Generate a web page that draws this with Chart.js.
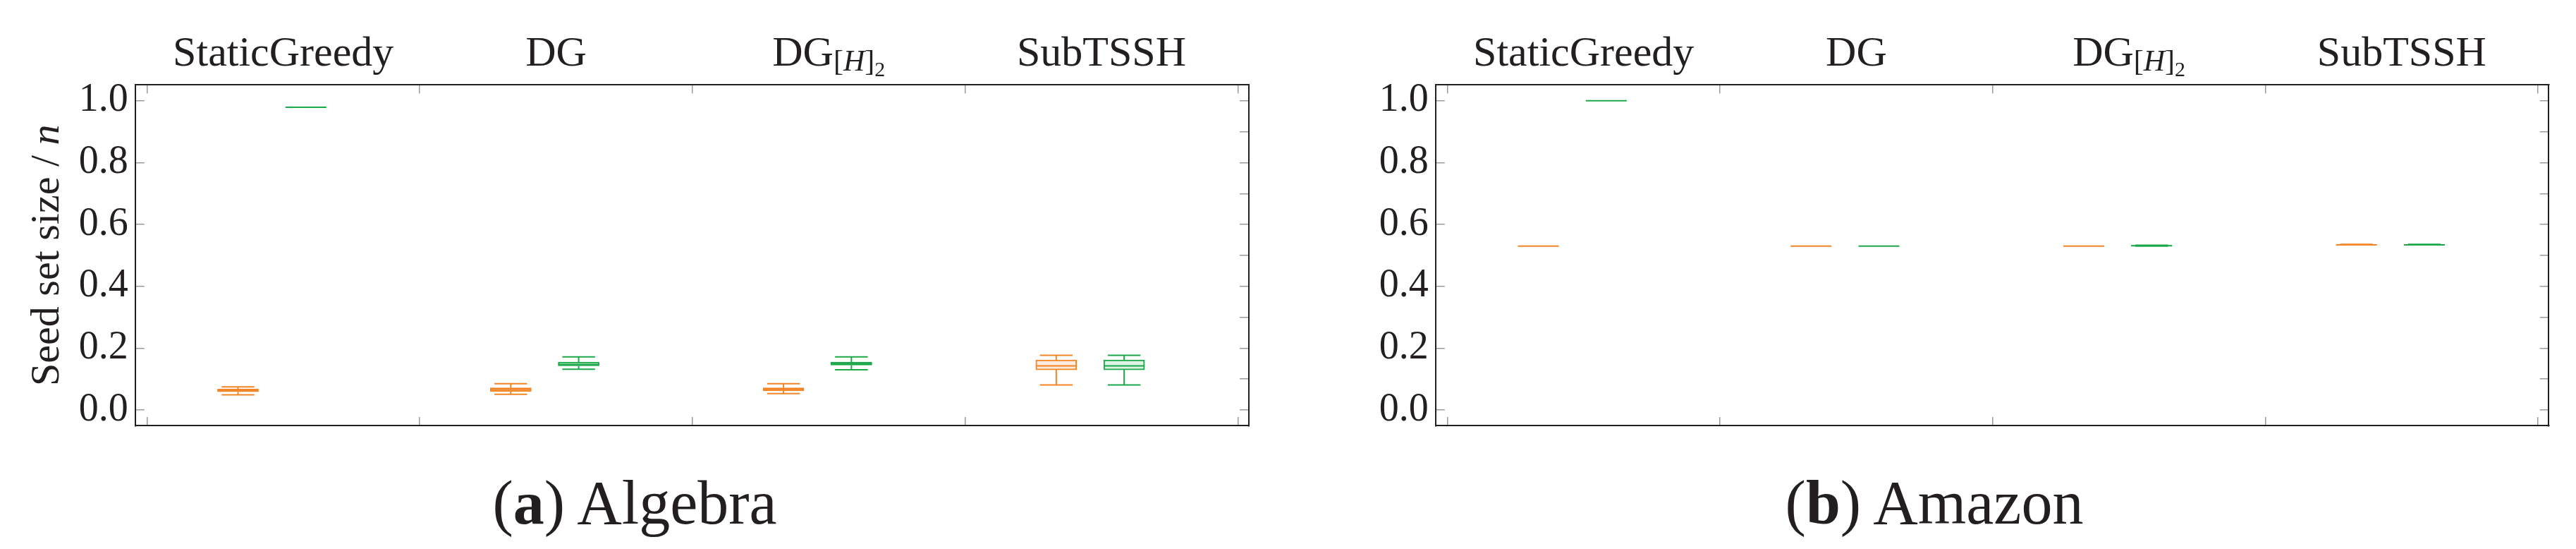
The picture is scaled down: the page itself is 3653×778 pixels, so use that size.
<!DOCTYPE html>
<html>
<head>
<meta charset="utf-8">
<script src="https://cdn.jsdelivr.net/npm/chart.js@4.4.0/dist/chart.umd.min.js"></script>
<style>
    html, body { margin: 0; padding: 0; background: #fff; width: 3653px; height: 778px; overflow: hidden; }
    .panel { position: absolute; top: 0; height: 660px; }
    .caption {
        position: absolute; top: 669px;
        font-family: 'Liberation Serif', 'DejaVu Serif', serif;
        font-size: 88px; line-height: 1; white-space: nowrap;
        transform: translateX(-50%); color: #231f20;
    }
</style>
</head>
<body>
<div class="panel" style="left:0;width:1800px"><canvas id="algebraChart"></canvas></div>
<div class="panel" style="left:1800px;width:1853px"><canvas id="amazonChart"></canvas></div>
<div class="caption" style="left:900px">(<b>a</b>) Algebra</div>
<div class="caption" style="left:2743px">(<b>b</b>) Amazon</div>

<script>
const methods = ['StaticGreedy', 'DG', 'DG[H]2', 'SubTSSH'];

// Algebra - orange series (min, q1, median, q3, max per method)
const algOrangeMin = [0.049, 0.051, 0.053, 0.081];
const algOrangeQ1  = [0.059, 0.060, 0.062, 0.130];
const algOrangeMed = [0.062, 0.067, 0.067, 0.143];
const algOrangeQ3  = [0.068, 0.072, 0.072, 0.162];
const algOrangeMax = [0.075, 0.085, 0.085, 0.177];

// Algebra - green series
const algGreenMin = [0.979, 0.132, 0.130, 0.081];
const algGreenQ1  = [0.979, 0.143, 0.145, 0.130];
const algGreenMed = [0.979, 0.147, 0.150, 0.143];
const algGreenQ3  = [0.979, 0.155, 0.155, 0.162];
const algGreenMax = [0.979, 0.172, 0.172, 0.177];

// Amazon - orange series
const amzOrangeMin = [0.530, 0.530, 0.530, 0.534];
const amzOrangeQ1  = [0.530, 0.530, 0.530, 0.534];
const amzOrangeMed = [0.530, 0.530, 0.530, 0.534];
const amzOrangeQ3  = [0.530, 0.530, 0.530, 0.5345];
const amzOrangeMax = [0.530, 0.530, 0.530, 0.5355];

// Amazon - green series
const amzGreenMin = [1.000, 0.530, 0.530, 0.534];
const amzGreenQ1  = [1.000, 0.530, 0.530, 0.534];
const amzGreenMed = [1.000, 0.530, 0.531, 0.534];
const amzGreenQ3  = [1.000, 0.530, 0.532, 0.5345];
const amzGreenMax = [1.000, 0.530, 0.533, 0.5355];

const SERIF = "'Liberation Serif', 'DejaVu Serif', serif";
const INK = '#231f20';
const ORANGE = '#f28526', ORANGE_FILL = '#fdebdd';
const GREEN = '#1ca84a', GREEN_FILL = '#ddf3e3';

// where each series sits inside its method slot (slot = 1 unit)
const ORANGE_POS = 0.334, GREEN_POS = 0.583;
const CAP_HALF = 0.06, BOX_HALF = 0.075;

const Y_MIN = -0.051, Y_MAX = 1.052;
const X_MIN = -0.0414, X_MAX = 4.039;

// Box = floating bar, whiskers/caps/median = one broken line dataset
function boxDatasets(s, color, fill, pos) {
    const xs = methods.map((m, i) => i + pos);
    const boxes = {
        type: 'bar',
        data: xs.map((x, i) => ({ x: x, y: [s.q1[i], s.q3[i]] })),
        backgroundColor: fill,
        borderColor: color,
        borderWidth: 2,
        borderSkipped: false,
        barThickness: 58,
        grouped: false,
        order: 2
    };
    const pts = [];
    xs.forEach((x, i) => {
        pts.push({ x: x, y: s.q3[i] }, { x: x, y: s.max[i] }, { x: x, y: null });
        pts.push({ x: x - CAP_HALF, y: s.max[i] }, { x: x + CAP_HALF, y: s.max[i] }, { x: x, y: null });
        pts.push({ x: x, y: s.q1[i] }, { x: x, y: s.min[i] }, { x: x, y: null });
        pts.push({ x: x - CAP_HALF, y: s.min[i] }, { x: x + CAP_HALF, y: s.min[i] }, { x: x, y: null });
        pts.push({ x: x - BOX_HALF, y: s.med[i] }, { x: x + BOX_HALF, y: s.med[i] }, { x: x, y: null });
    });
    const lines = {
        type: 'line',
        data: pts,
        borderColor: color,
        borderWidth: 2,
        pointRadius: 0,
        fill: false,
        spanGaps: false,
        tension: 0,
        order: 1
    };
    return [boxes, lines];
}

function titleParts(name) {
    if (name === 'DG[H]2') {
        return [
            { text: 'DG', font: '60px ' + SERIF, dy: 0 },
            { text: '[', font: '42px ' + SERIF, dy: 6.7 },
            { text: 'H', font: 'italic 42px ' + SERIF, dy: 6.7 },
            { text: ']', font: '42px ' + SERIF, dy: 6.7 },
            { text: '2', font: '30px ' + SERIF, dy: 14.7 }
        ];
    }
    return [{ text: name, font: '60px ' + SERIF, dy: 0 }];
}

function drawRich(ctx, parts, cx, y) {
    let total = 0;
    parts.forEach(p => { ctx.font = p.font; p.w = ctx.measureText(p.text).width; total += p.w; });
    let x = cx - total / 2;
    parts.forEach(p => {
        ctx.font = p.font;
        ctx.fillText(p.text, x, y + p.dy);
        x += p.w;
    });
}

// Method names above the frame and the rotated y label
const headingPlugin = {
    id: 'headings',
    afterDraw(chart, args, opts) {
        const { ctx, chartArea, scales } = chart;
        ctx.save();
        ctx.fillStyle = INK;
        ctx.textAlign = 'left';
        ctx.textBaseline = 'alphabetic';
        methods.forEach((name, i) => {
            drawRich(ctx, titleParts(name), scales.x.getPixelForValue(i + 0.5), chartArea.top - 26.7);
        });
        if (opts.yLabel) {
            ctx.translate(opts.yLabelX, (chartArea.top + chartArea.bottom) / 2);
            ctx.rotate(-Math.PI / 2);
            drawRich(ctx, [
                { text: 'Seed set size / ', font: '58px ' + SERIF, dy: 0 },
                { text: 'n', font: 'italic 58px ' + SERIF, dy: 0 }
            ], 0, 0);
        }
        ctx.restore();
    }
};

function scalesFor(yAxisWidth) {
    const tickGrid = { drawOnChartArea: false, drawTicks: true, offset: false, tickLength: -12.5, color: '#9a9a9a', lineWidth: 1.5 };
    const frame = { display: true, color: INK, width: 2 };
    const xAxis = (position) => ({
        type: 'linear',
        position: position,
        offset: false,
        min: X_MIN,
        max: X_MAX,
        afterFit: s => { s.height = 0; },
        ticks: { display: false, stepSize: 1, includeBounds: false },
        grid: tickGrid,
        border: frame
    });
    const yAxis = (position, labels, width) => ({
        type: 'linear',
        position: position,
        min: Y_MIN,
        max: Y_MAX,
        afterFit: s => { s.width = width; },
        ticks: {
            display: labels,
            stepSize: 0.1,
            includeBounds: false,
            maxTicksLimit: 20,
            padding: 23,
            color: INK,
            font: { family: SERIF, size: 56 },
            callback: v => (Math.round(v * 10) % 2 === 0 ? v.toFixed(1) : '')
        },
        grid: tickGrid,
        border: frame
    });
    return {
        x: xAxis('bottom'),
        x2: xAxis('top'),
        y: yAxis('left', true, yAxisWidth),
        y2: yAxis('right', false, 0)
    };
}

function createPanel(canvasId, orange, green, yAxisWidth, padRight, headingOpts) {
    const ctx = document.getElementById(canvasId).getContext('2d');
    return new Chart(ctx, {
        type: 'bar',
        data: {
            datasets: [
                ...boxDatasets(orange, ORANGE, ORANGE_FILL, ORANGE_POS),
                ...boxDatasets(green, GREEN, GREEN_FILL, GREEN_POS)
            ]
        },
        options: {
            responsive: true,
            maintainAspectRatio: false,
            animation: false,
            layout: { padding: { left: 0, top: 120, right: padRight, bottom: 21.7 } },
            plugins: {
                legend: { display: false },
                tooltip: { enabled: false },
                headings: headingOpts
            },
            scales: scalesFor(yAxisWidth)
        },
        plugins: [headingPlugin]
    });
}

createPanel('algebraChart',
    { min: algOrangeMin, q1: algOrangeQ1, med: algOrangeMed, q3: algOrangeQ3, max: algOrangeMax },
    { min: algGreenMin, q1: algGreenQ1, med: algGreenMed, q3: algGreenQ3, max: algGreenMax },
    192.3, 29.5, { yLabel: true, yLabelX: 83 });

createPanel('amazonChart',
    { min: amzOrangeMin, q1: amzOrangeQ1, med: amzOrangeMed, q3: amzOrangeQ3, max: amzOrangeMax },
    { min: amzGreenMin, q1: amzGreenQ1, med: amzGreenMed, q3: amzGreenQ3, max: amzGreenMax },
    236.3, 38.7, { yLabel: false });
</script>
</body>
</html>
